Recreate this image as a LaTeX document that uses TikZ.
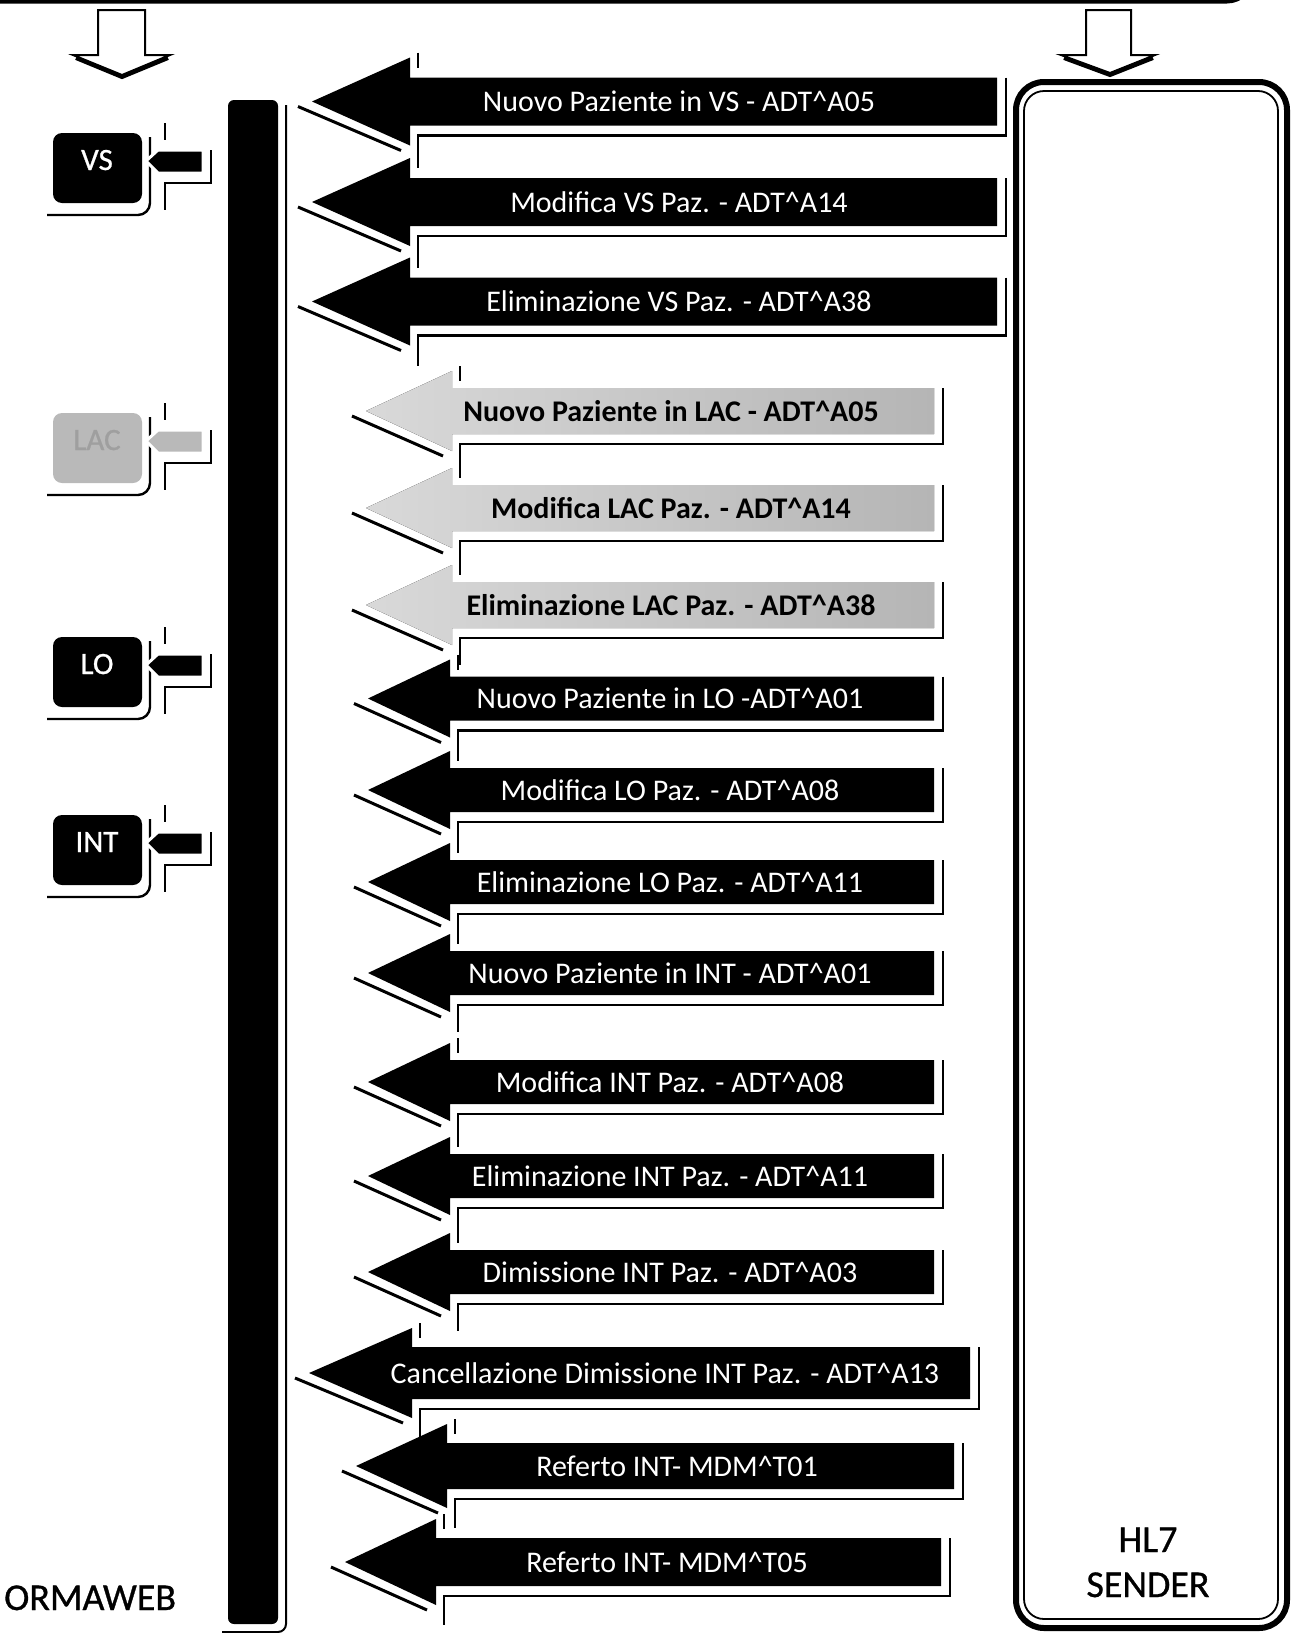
\documentclass[tikz,border=0pt]{standalone}
\usepackage{fontspec}
\setmainfont{Carlito}
\newfontfamily\lblfamily[FakeBold=0.8]{Carlito}

\newcounter{msg}
\newcommand{\msgfont}{\fontsize{30}{36}\selectfont}
\newcommand{\lblfont}{\lblfamily\fontsize{38}{45}\selectfont}
\newcommand{\unitfont}{\lblfamily\fontsize{31}{36}\selectfont}
\newcommand{\hatc}{\textasciicircum}

\tikzset{
  shadowline/.style={line width=2.4pt},
  msgfill/.style={fill=black},
  lacfill/.style={left color=gray!30, right color=gray!58},
  lacboxfill/.style={fill=gray!55},
  msgboxfill/.style={fill=black},
  msgtext/.style={text=white, font=\msgfont, anchor=base, inner sep=0pt},
  lactext/.style={text=black, font=\msgfont\bfseries, anchor=base, inner sep=0pt},
  msgunit/.style={text=white, font=\unitfont, anchor=base, inner sep=0pt},
  lacunit/.style={text=gray!75, font=\unitfont, anchor=base, inner sep=0pt},
  downarrow/.style={draw=black, fill=white, line width=2pt},
}

% #1 kind, #2 tip x, #3 head x, #4 end x, #5 mid y, #6 half shaft, #7 half head, #8 text x, #9 text
\newcommand{\msgarrow}[9]{%
  \stepcounter{msg}%
  \draw[shadowline] (#3+8,#5-#7-5) -- (#3+8,#5-#7+10);
  \draw[shadowline] (#4+9,#5-#6) -- (#4+9,#5+#6+10) -- (#3+8,#5+#6+10) -- (#3+8,#5+#7+20);
  \draw[line width=3pt] (#2-14,#5+5) -- (#3-9,#5+#7+5);
  \fill[#1fill] (#2,#5) -- (#3,#5-#7) -- (#3,#5-#6) -- (#4,#5-#6) -- (#4,#5+#6)
    -- (#3,#5+#6) -- (#3,#5+#7) -- cycle;
  \node[#1text] (msg\arabic{msg}) at (#8,#5+10) {#9};
}

% #1 name, #2 top y, #3 kind, #4 text
\newcommand{\unitbox}[4]{%
  \draw[shadowline, rounded corners=12pt] (47,#2+82) -- (150,#2+82) -- (150,#2+4);
  \draw[shadowline] (165,#2-10) -- (165,#2+7);
  \draw[shadowline] (211,#2+17) -- (211,#2+50) -- (165,#2+50) -- (165,#2+77);
  \fill[#3boxfill, rounded corners=9pt] (53,#2) rectangle (142,#2+70);
  \fill[#3boxfill, draw=white, line width=3pt] (146,#2+28) -- (158,#2+17) -- (203,#2+17)
    -- (203,#2+40) -- (158,#2+40) -- cycle;
  \node[#3unit] (#1) at (97,#2+37) {#4};
}

\begin{document}
\begin{tikzpicture}[x=1pt, y=-1pt]
  \useasboundingbox (0,0) rectangle (1291,1633);

  % --- top edge and the two down arrows ---
  \draw[line width=5pt, rounded corners=25pt] (-10,1) -- (1252,1) -- (1252,-60);
  \draw[downarrow] (98,10) -- (145,10) -- (145,55) -- (170,55) -- (122,75) -- (73,55) -- (98,55) -- cycle;
  \draw[line width=4pt] (76,58) -- (122,77) -- (168,58);
  \draw[downarrow] (1086,10) -- (1131,10) -- (1131,55) -- (1155,55) -- (1110,73) -- (1061,55) -- (1086,55) -- cycle;
  \draw[line width=4pt] (1064,58) -- (1110,75) -- (1153,58);

  % --- ORMAWEB side ---
  \draw[line width=2pt, rounded corners=8pt] (286,105) -- (286,1632) -- (222,1632);
  \fill[rounded corners=6pt] (228,100) rectangle (278,1624);
  \node[font=\lblfont, anchor=base west, inner sep=0pt] (ormaweb) at (4,1610) {ORMAWEB};

  \unitbox{vs}{133}{msg}{VS}
  \unitbox{lac}{413}{lac}{LAC}
  \unitbox{lo}{637}{msg}{LO}
  \unitbox{int}{815}{msg}{INT}

  % --- HL7 sender ---
  \draw[line width=6pt, rounded corners=28pt] (1016,82) rectangle (1287,1628);
  \draw[line width=1.8pt, rounded corners=20pt] (1024,91) rectangle (1278,1619);
  \node[font=\lblfont, anchor=base, inner sep=0pt] (hlseven) at (1148,1552) {HL7};
  \node[font=\lblfont, anchor=base, inner sep=0pt] (sender) at (1148,1597) {SENDER};

  % --- messages VS ---
  \msgarrow{msg}{312}{410}{997}{101.5}{24}{44}{679}{Nuovo Paziente in VS - ADT\hatc A05}
  \msgarrow{msg}{312}{410}{997}{202}{24}{44}{679}{Modifica VS Paz. - ADT\hatc A14}
  \msgarrow{msg}{312}{410}{997}{301.5}{24}{44}{679}{Eliminazione VS Paz. - ADT\hatc A38}

  % --- messages LAC ---
  \msgarrow{lac}{366}{452}{934}{411}{23}{40}{671}{Nuovo Paziente in LAC - ADT\hatc A05}
  \msgarrow{lac}{366}{452}{934}{508}{23}{40}{671}{Modifica LAC Paz. - ADT\hatc A14}
  \msgarrow{lac}{366}{452}{934}{605}{23}{40}{671}{Eliminazione LAC Paz. - ADT\hatc A38}

  % --- messages LO / INT ---
  \msgarrow{msg}{368}{450}{934}{698.5}{22}{39}{670}{Nuovo Paziente in LO -ADT\hatc A01}
  \msgarrow{msg}{368}{450}{934}{790}{22}{39}{670}{Modifica LO Paz. - ADT\hatc A08}
  \msgarrow{msg}{368}{450}{934}{882}{22}{39}{670}{Eliminazione LO Paz. - ADT\hatc A11}
  \msgarrow{msg}{368}{450}{934}{973}{22}{39}{670}{Nuovo Paziente in INT - ADT\hatc A01}
  \msgarrow{msg}{368}{450}{934}{1082}{22}{39}{670}{Modifica INT Paz. - ADT\hatc A08}
  \msgarrow{msg}{368}{450}{934}{1176}{22}{39}{670}{Eliminazione INT Paz. - ADT\hatc A11}
  \msgarrow{msg}{368}{450}{934}{1272}{22}{39}{670}{Dimissione INT Paz. - ADT\hatc A03}
  \msgarrow{msg}{309}{412}{970}{1373}{26}{45}{665}{Cancellazione Dimissione INT Paz. - ADT\hatc A13}
  \msgarrow{msg}{356}{447}{954}{1466}{23}{42}{677}{Referto INT- MDM\hatc T01}
  \msgarrow{msg}{345}{436}{941}{1562}{24}{43}{667}{Referto INT- MDM\hatc T05}
\end{tikzpicture}
\end{document}
